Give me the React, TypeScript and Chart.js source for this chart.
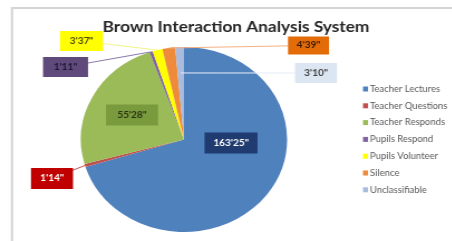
import React, { useEffect, useRef } from "react";
import { Chart, registerables } from "chart.js";

Chart.register(...registerables);

const title = "Brown Interaction Analysis System";
const categories = [
  "Teacher Lectures",
  "Teacher Questions",
  "Teacher Responds",
  "Pupils Respond",
  "Pupils Volunteer",
  "Silence",
  "Unclassifiable",
];
const minutes = [163, 1, 55, 1, 3, 4, 3];
const seconds = [25, 14, 28, 11, 37, 39, 10];
const sliceColors = ["#4F81BD", "#C0504D", "#9BBB59", "#8064A2", "#FFFF00", "#EE8A3C", "#A9BCDD"];
const boxColors = ["#1F3B70", "#C00000", "#7A9A3E", "#604A7B", "#FFFF00", "#E36C09", "#DCE6F2"];
const textColors = ["#FFFFFF", "#FFFFFF", "#2A3512", "#1C1733", "#4A4A00", "#3A1A00", "#404040"];
const lineColors = ["", "#D0504D", "", "#8A7AA8", "#F4F48A", "#F4B183", "#E6EEF8"];

// layout (page pixels)
const SX = 1.115;
const W = 405;
const H = 241;
const labelBoxes = [
  { cx: 231, cy: 143, w: 53, h: 21, f: 0 },
  { cx: 52, cy: 178.5, w: 42, h: 21, f: 1.0 },
  { cx: 132, cy: 115, w: 52, h: 21, f: 0 },
  { cx: 65.5, cy: 67, w: 45, h: 20, f: 1.0 },
  { cx: 81.5, cy: 41, w: 43, h: 20, f: 1.0 },
  { cx: 308.5, cy: 45.5, w: 41, h: 18, f: 1.0 },
  { cx: 316, cy: 73, w: 42, h: 20, f: 0.72 },
];

const values = minutes.map((m, i) => m + seconds[i] / 60);
const labelTexts = minutes.map((m, i) => `${m}'${String(seconds[i]).padStart(2, "0")}"`);

const decorPlugin = {
  id: "decor",
  beforeDraw(chart: any) {
    const ctx = chart.ctx;
    ctx.save();
    ctx.fillStyle = "#FFFFFF";
    ctx.fillRect(0, 0, chart.width, chart.height);
    ctx.strokeStyle = "#D4D4D4";
    ctx.lineWidth = 2;
    ctx.beginPath();
    ctx.moveTo(12 / SX, H);
    ctx.lineTo(12 / SX, 8);
    ctx.lineTo(W, 8);
    ctx.stroke();
    // title
    ctx.fillStyle = "#262626";
    ctx.font = "bold 15.5px Lato";
    ctx.textAlign = "center";
    ctx.textBaseline = "middle";
    ctx.fillText(title, 236 / SX, 27);
    // legend
    ctx.font = "8.5px Lato";
    ctx.textAlign = "left";
    categories.forEach((c, i) => {
      const y = 89 + i * 16.8;
      ctx.fillStyle = sliceColors[i];
      ctx.fillRect(363 / SX, y - 2.5, 5 / SX, 5);
      ctx.fillStyle = "#595959";
      ctx.fillText(c, 370 / SX, y);
    });
    ctx.restore();
  },
  afterDatasetsDraw(chart: any) {
    const ctx = chart.ctx;
    const meta = chart.getDatasetMeta(0);
    ctx.save();
    meta.data.forEach((el: any, i: number) => {
      const b = labelBoxes[i];
      const bx = b.cx / SX;
      const bw = b.w / SX;
      if (b.f > 0) {
        const p = el.getProps(["x", "y", "startAngle", "endAngle", "outerRadius"], true);
        const mid = (p.startAngle + p.endAngle) / 2;
        const ex = p.x + Math.cos(mid) * p.outerRadius * b.f;
        const ey = p.y + Math.sin(mid) * p.outerRadius * b.f;
        ctx.strokeStyle = lineColors[i];
        ctx.lineWidth = 1;
        ctx.beginPath();
        ctx.moveTo(bx, b.cy);
        ctx.lineTo(ex, ey);
        ctx.stroke();
      }
      ctx.fillStyle = boxColors[i];
      ctx.fillRect(bx - bw / 2, b.cy - b.h / 2, bw, b.h);
      ctx.fillStyle = textColors[i];
      ctx.font = "bold 9px Lato";
      ctx.textAlign = "center";
      ctx.textBaseline = "middle";
      ctx.fillText(labelTexts[i], bx, b.cy);
    });
    ctx.restore();
  },
};

export default function App() {
  const ref = useRef<HTMLCanvasElement>(null);
  useEffect(() => {
    document.body.style.margin = "0";
    const chart = new Chart(ref.current as HTMLCanvasElement, {
      type: "pie",
      data: {
        labels: categories,
        datasets: [
          {
            data: values,
            backgroundColor: sliceColors,
            borderWidth: 0,
          },
        ],
      },
      options: {
        responsive: false,
        animation: false,
        layout: { padding: { left: 72.5, right: W - 257.5, top: 47, bottom: 9 } },
        plugins: { legend: { display: false }, title: { display: false }, tooltip: { enabled: false } },
      },
      plugins: [decorPlugin],
    });
    return () => chart.destroy();
  }, []);
  return (
    <div style={{ position: "fixed", left: 0, top: 0, width: W, height: H, transform: `scaleX(${SX})`, transformOrigin: "0 0" }}>
      <canvas ref={ref} width={W} height={H} style={{ width: W, height: H }} />
    </div>
  );
}
